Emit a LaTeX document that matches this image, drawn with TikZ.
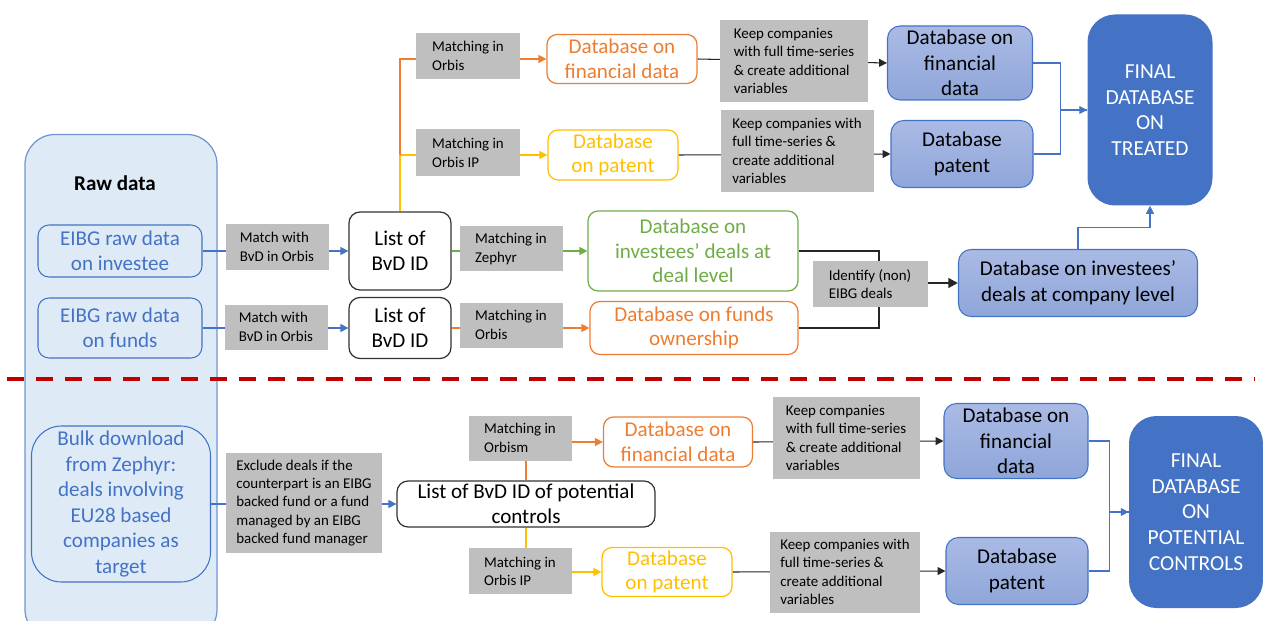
\documentclass[tikz,border=0pt]{standalone}
\usepackage{fontspec}
\setmainfont{Carlito}
\usetikzlibrary{arrows.meta,positioning}
\definecolor{Accent}{HTML}{4472C4}
\definecolor{Orng}{HTML}{ED7D31}
\definecolor{Gold}{HTML}{FFC000}
\definecolor{Leaf}{HTML}{70AD47}
\definecolor{Shade}{HTML}{BFBFBF}
\definecolor{Pale}{HTML}{DEEBF7}
\definecolor{Frame}{HTML}{7094CF}
\definecolor{LightTop}{HTML}{AABAE4}
\definecolor{LightBot}{HTML}{8FA6DA}
\definecolor{Cut}{HTML}{C00000}
\newcommand\notefont{\fontsize{8.5}{10.4}\selectfont}
\newcommand\dbfont{\fontsize{12}{14}\selectfont}
\newcommand\blufont{\fontsize{12}{14.5}\selectfont}
\newcommand\capfont{\fontsize{12.2}{14.6}\selectfont}
\pgfdeclarelayer{back}
\pgfdeclarelayer{lines}
\pgfsetlayers{back,lines,main}

\begin{document}
\begin{tikzpicture}[x=0.02cm,y=-0.02cm,
wh/.style 2 args={minimum width=#1*0.02cm,minimum height=#2*0.02cm},
note/.style={fill=Shade,inner sep=0pt,align=left,font=\notefont},
rawitem/.style={draw=Accent,line width=0.6pt,rounded corners=0.22cm,fill=Pale,text=Accent,inner sep=0pt,align=center,font=\blufont},
listbox/.style={draw=black!80,line width=0.7pt,rounded corners=0.22cm,fill=white,inner sep=0pt,align=center,font=\blufont},
dbbox/.style={line width=0.7pt,rounded corners=0.2cm,fill=white,inner sep=0pt,align=center,font=\dbfont},
bluebox/.style={draw=Accent,line width=0.6pt,rounded corners=0.25cm,top color=LightTop,bottom color=LightBot,inner sep=0pt,align=center,font=\blufont},
finalbox/.style={fill=Accent,rounded corners=0.55cm,text=white,inner sep=0pt,align=center,font=\capfont},
tip/.style={-{Triangle[length=4.5pt,width=4.5pt]}},
blueln/.style={draw=Accent,line width=0.6pt},
bluearr/.style={blueln,tip},
orngln/.style={draw=Orng,line width=0.6pt},
orngarr/.style={orngln,tip},
goldln/.style={draw=Gold,line width=0.6pt},
goldarr/.style={goldln,tip},
leafarr/.style={draw=Leaf,line width=0.6pt,tip},
blkln/.style={draw=black!85,line width=0.8pt},
blkarr/.style={draw=black!85,line width=0.6pt,tip},
blkthick/.style={draw=black!85,line width=1.2pt,-{Triangle[length=5.5pt,width=5.5pt]}},
cut/.style={draw=Cut,line width=2.3pt,dash pattern=on 0.34cm off 0.24cm}]
\useasboundingbox (0,0) rectangle (1263,621);

% raw data column
\begin{pgfonlayer}{back}
\node[draw=Frame,line width=0.7pt,fill=Pale,rounded corners=0.6cm,wh={192}{505}] (raw) at (121,387) {};
\end{pgfonlayer}
\node[font=\bfseries\blufont] (rawtitle) at (115,183) {Raw data};
\node[rawitem,wh={164}{52}] (inv) at (120,251) {EIBG raw data\\on investee};
\node[rawitem,wh={164}{60}] (funds) at (120,328) {EIBG raw data\\on funds};
\node[note,wh={103}{46}] (match1) at (277,247) {Match with\\BvD in Orbis};
\node[note,wh={103}{45}] (match2) at (276,327) {Match with\\BvD in Orbis};
\node[listbox,wh={102}{78}] (list1) at (400,251) {List of\\BvD ID};
\node[listbox,wh={102}{61}] (list2) at (400,328) {List of\\BvD ID};

% treated: top branch
\node[note,wh={104}{46}] (orb1) at (468,56) {Matching in\\Orbis};
\node[dbbox,draw=Orng,text=Orng,wh={150}{49}] (dbfin1) at (622,59) {Database on\\financial data};
\node[note,wh={148}{82}] (keep1) at (794,61) {Keep companies\\with full time-series\\\& create additional\\variables};
\node[note,wh={104}{47}] (orbip1) at (468,153) {Matching in\\Orbis IP};
\node[dbbox,draw=Gold,text=Gold,wh={130}{50}] (dbpat1) at (613,155) {Database\\on patent};
\node[note,wh={153}{82}] (keep2) at (797,151) {Keep companies with\\full time-series \&\\create additional\\variables};
\node[bluebox,wh={145}{74}] (bfin1) at (960,63) {Database on\\financial\\data};
\node[bluebox,wh={142}{67}] (bpat1) at (962,154) {Database\\patent};
\node[finalbox,wh={125}{191}] (final1) at (1150,110) {FINAL\\DATABASE\\ON\\TREATED};

% treated: deals and funds
\node[note,wh={103}{45}] (zeph) at (511,249) {Matching in\\Zephyr};
\node[dbbox,draw=Leaf,text=Leaf,wh={210}{80}] (dbdeal) at (693,251) {Database on\\investees’ deals at\\deal level};
\node[note,wh={103}{45}] (orb2) at (511,325) {Matching in\\Orbis};
\node[dbbox,draw=Orng,text=Orng,wh={208}{53}] (dbfunds) at (694,328) {Database on funds\\ownership};
\coordinate (brk) at (879,283);
\node[note,wh={115}{46}] (ident) at (870,284) {Identify (non)\\EIBG deals};
\node[bluebox,wh={239}{67}] (bcomp) at (1078,283) {Database on investees’\\deals at company level};

% potential controls
\node[rawitem,rounded corners=0.6cm,wh={179}{156}] (bulk) at (121,504) {Bulk download\\from Zephyr:\\deals involving\\EU28 based\\companies as\\target};
\node[note,wh={156}{100}] (excl) at (304,503) {Exclude deals if the\\counterpart is an EIBG\\backed fund or a fund\\managed by an EIBG\\backed fund manager};
\node[listbox,wh={258}{46}] (listpc) at (526,504) {List of BvD ID of potential\\controls};
\node[note,wh={103}{45}] (orbism) at (520,438) {Matching in\\Orbism};
\node[dbbox,draw=Orng,text=Orng,wh={149}{50}] (dbfin2) at (678,442) {Database on\\financial data};
\node[note,wh={147}{82}] (keep3) at (846,438) {Keep companies\\with full time-series\\\& create additional\\variables};
\node[note,wh={103}{46}] (orbip2) at (520,571) {Matching in\\Orbis IP};
\node[dbbox,draw=Gold,text=Gold,wh={130}{49}] (dbpat2) at (667,572) {Database\\on patent};
\node[note,wh={150}{81}] (keep4) at (845,572) {Keep companies with\\full time-series \&\\create additional\\variables};
\node[bluebox,wh={144}{75}] (bfin2) at (1016,441) {Database on\\financial\\data};
\node[bluebox,wh={142}{67}] (bpat2) at (1017,571) {Database\\patent};
\node[finalbox,wh={134}{192}] (final2) at (1196,512) {FINAL\\DATABASE\\ON\\POTENTIAL\\CONTROLS};

\begin{pgfonlayer}{lines}
\draw[bluearr] (inv.east) -- (list1.west);
\draw[bluearr] (funds.east) -- (list2.west);
\draw[goldarr] (list1.north) -- (list1.north |- dbpat1.west) -- (dbpat1.west);
\draw[orngarr] (list1.north |- dbpat1.west) -- (list1.north |- dbfin1.west) -- (dbfin1.west);
\draw[leafarr] (list1.east) -- (dbdeal.west);
\draw[orngarr] (list2.east) -- (dbfunds.west);
\draw[blkarr] (dbfin1.east) -- (bfin1.west);
\draw[blkarr] (dbpat1.east) -- (bpat1.west);
\draw[bluearr] (bfin1.east) -- ++(27,0) |- (final1.west);
\draw[blueln] (bpat1.east) -- ++(27,0) |- (final1.west);
\draw[blkln] (dbdeal.east) -| (brk) |- (dbfunds.east);
\draw[blkthick] (brk) -- (bcomp.west);
\draw[bluearr] (bcomp.north) -- ++(0,-21) -| (final1.south);
\draw[bluearr] (bulk.east) -- (listpc.west);
\draw[orngln] (listpc.north) -- (orbism.south -| listpc.north);
\draw[orngarr] (orbism.east |- dbfin2.west) -- (dbfin2.west);
\draw[goldln] (listpc.south) -- (orbip2.north -| listpc.south);
\draw[goldarr] (orbip2.east |- dbpat2.west) -- (dbpat2.west);
\draw[blkarr] (dbfin2.east) -- (bfin2.west);
\draw[blkarr] (dbpat2.east) -- (bpat2.west);
\draw[bluearr] (bfin2.east) -- ++(21,0) |- (final2.west);
\draw[blueln] (bpat2.east) -- ++(21,0) |- (final2.west);
\end{pgfonlayer}

% split between treated and controls
\coordinate (cutL) at (7,379);
\coordinate (cutR) at (1255,379);
\draw[cut] (cutL) -- (cutR);
\end{tikzpicture}
\end{document}
